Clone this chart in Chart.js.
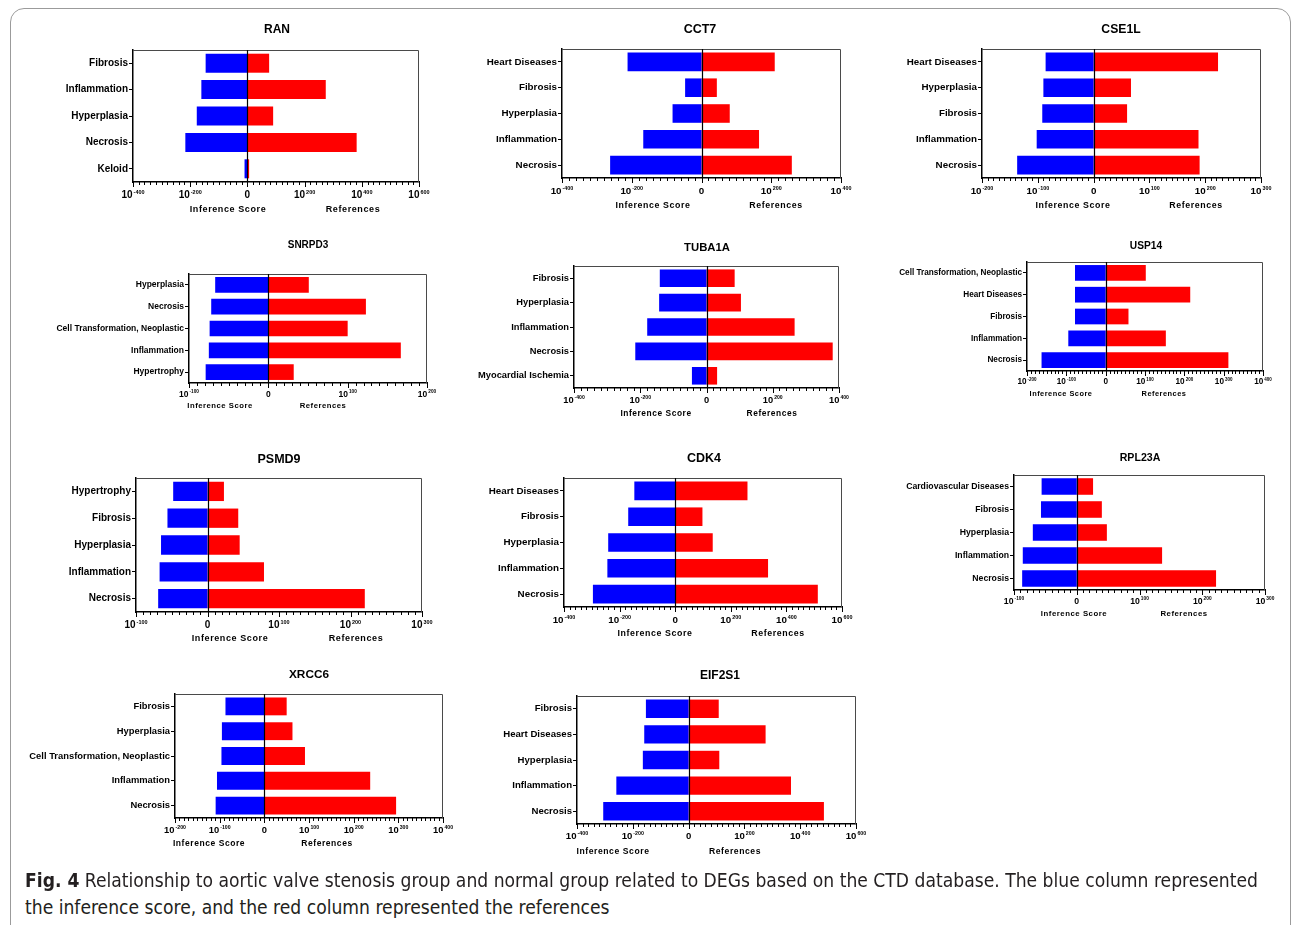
<!DOCTYPE html>
<html>
<head>
<meta charset="utf-8">
<script src="https://cdn.jsdelivr.net/npm/chart.js@4.4.0/dist/chart.umd.min.js"></script>
<style>
  body { margin: 0; background: #fff; width: 1292px; height: 925px; position: relative; overflow: hidden; }
  #frame { position: absolute; left: 10px; top: 8px; width: 1279px; height: 960px; border: 1px solid #9b9b9b; border-radius: 14px; }
  canvas { position: absolute; }
  .cap { position: absolute; left: 25px; white-space: nowrap; font-family: "Liberation Sans Narrow", "DejaVu Sans Condensed", "Liberation Sans", sans-serif; font-stretch: condensed; font-size: 20px; line-height: 26px; color: #231f20; transform-origin: 0 0; }
  .cap b { font-weight: bold; }
</style>
</head>
<body>
<div id="frame"></div>
<div id="charts"></div>
<div class="cap" id="cap1" style="top:867px"><b>Fig. 4</b> Relationship to aortic valve stenosis group and normal group related to DEGs based on the CTD database. The blue column represented</div>
<div class="cap" id="cap2" style="top:894px">the inference score, and the red column represented the references</div>

<script>
var fontFamily = '"Liberation Sans", Arial, Helvetica, sans-serif';

var ranDiseases = ['Fibrosis', 'Inflammation', 'Hyperplasia', 'Necrosis', 'Keloid'];
var ranInference = [-146, -161, -177, -217, -10];
var ranReferences = [76, 274, 90, 382, 6];
var ranTicks = [-400, -200, 0, 200, 400, 600];

var cct7Diseases = ['Heart Diseases', 'Fibrosis', 'Hyperplasia', 'Inflammation', 'Necrosis'];
var cct7Inference = [-212, -47, -83, -167, -262];
var cct7References = [210, 44, 81, 165, 259];
var cct7Ticks = [-400, -200, 0, 200, 400];

var cse1lDiseases = ['Heart Diseases', 'Hyperplasia', 'Fibrosis', 'Inflammation', 'Necrosis'];
var cse1lInference = [-86, -90, -92, -102, -137];
var cse1lReferences = [223, 67, 60, 188, 190];
var cse1lTicks = [-200, -100, 0, 100, 200, 300];

var snrpd3Diseases = ['Hyperplasia', 'Necrosis', 'Cell Transformation, Neoplastic', 'Inflammation', 'Hypertrophy'];
var snrpd3Inference = [-67, -72, -74, -75, -79];
var snrpd3References = [51, 123, 100, 167, 32];
var snrpd3Ticks = [-100, 0, 100, 200];

var tuba1aDiseases = ['Fibrosis', 'Hyperplasia', 'Inflammation', 'Necrosis', 'Myocardial Ischemia'];
var tuba1aInference = [-141, -143, -179, -215, -44];
var tuba1aReferences = [85, 104, 266, 381, 32];
var tuba1aTicks = [-400, -200, 0, 200, 400];

var usp14Diseases = ['Cell Transformation, Neoplastic', 'Heart Diseases', 'Fibrosis', 'Inflammation', 'Necrosis'];
var usp14Inference = [-78, -78, -78, -95, -163];
var usp14References = [102, 215, 58, 153, 312];
var usp14Ticks = [-200, -100, 0, 100, 200, 300, 400];

var psmd9Diseases = ['Hypertrophy', 'Fibrosis', 'Hyperplasia', 'Inflammation', 'Necrosis'];
var psmd9Inference = [-48, -56, -65, -67, -69];
var psmd9References = [23, 43, 45, 79, 220];
var psmd9Ticks = [-100, 0, 100, 200, 300];

var cdk4Diseases = ['Heart Diseases', 'Fibrosis', 'Hyperplasia', 'Inflammation', 'Necrosis'];
var cdk4Inference = [-147, -169, -241, -244, -296];
var cdk4References = [260, 98, 135, 334, 513];
var cdk4Ticks = [-400, -200, 0, 200, 400, 600];

var rpl23aDiseases = ['Cardiovascular Diseases', 'Fibrosis', 'Hyperplasia', 'Inflammation', 'Necrosis'];
var rpl23aInference = [-56, -57, -70, -86, -87];
var rpl23aReferences = [26, 40, 48, 136, 222];
var rpl23aTicks = [-100, 0, 100, 200, 300];

var xrcc6Diseases = ['Fibrosis', 'Hyperplasia', 'Cell Transformation, Neoplastic', 'Inflammation', 'Necrosis'];
var xrcc6Inference = [-87, -95, -96, -106, -109];
var xrcc6References = [50, 63, 91, 237, 295];
var xrcc6Ticks = [-200, -100, 0, 100, 200, 300, 400];

var eif2s1Diseases = ['Fibrosis', 'Heart Diseases', 'Hyperplasia', 'Inflammation', 'Necrosis'];
var eif2s1Inference = [-153, -159, -164, -259, -306];
var eif2s1References = [108, 276, 110, 367, 485];
var eif2s1Ticks = [-400, -200, 0, 200, 400, 600];

// page layout of each panel: plot box [l,t,r,b], font sizes, title / axis title centres
var panels = [
  { gene: 'RAN', cats: ranDiseases, inf: ranInference, ref: ranReferences, ticks: ranTicks,
    box: [133, 50, 419, 182], fs: 10, tfs: 12, title: [277, 30], axisY: 210, infX: 228, refX: 353 },
  { gene: 'CCT7', cats: cct7Diseases, inf: cct7Inference, ref: cct7References, ticks: cct7Ticks,
    box: [562, 49, 841, 178], fs: 9.8, tfs: 12.5, title: [700, 30], axisY: 206, infX: 653, refX: 776 },
  { gene: 'CSE1L', cats: cse1lDiseases, inf: cse1lInference, ref: cse1lReferences, ticks: cse1lTicks,
    box: [982, 49, 1261, 178], fs: 9.8, tfs: 12.2, title: [1121, 30], axisY: 206, infX: 1073, refX: 1196 },
  { gene: 'SNRPD3', cats: snrpd3Diseases, inf: snrpd3Inference, ref: snrpd3References, ticks: snrpd3Ticks,
    box: [189, 274, 427, 383], fs: 8.5, tfs: 10, title: [308, 245], axisY: 406, infX: 220, refX: 323 },
  { gene: 'TUBA1A', cats: tuba1aDiseases, inf: tuba1aInference, ref: tuba1aReferences, ticks: tuba1aTicks,
    box: [574, 266, 839, 388], fs: 9.3, tfs: 11.3, title: [707, 248], axisY: 414, infX: 656, refX: 772 },
  { gene: 'USP14', cats: usp14Diseases, inf: usp14Inference, ref: usp14References, ticks: usp14Ticks,
    box: [1027, 262, 1263, 371], fs: 8.2, tfs: 10.2, title: [1146, 246], axisY: 394, infX: 1061, refX: 1164 },
  { gene: 'PSMD9', cats: psmd9Diseases, inf: psmd9Inference, ref: psmd9References, ticks: psmd9Ticks,
    box: [136, 478, 422, 612], fs: 10, tfs: 12.5, title: [279, 460], axisY: 639, infX: 230, refX: 356 },
  { gene: 'CDK4', cats: cdk4Diseases, inf: cdk4Inference, ref: cdk4References, ticks: cdk4Ticks,
    box: [564, 478, 842, 607], fs: 9.8, tfs: 12.5, title: [704, 459], axisY: 634, infX: 655, refX: 778 },
  { gene: 'RPL23A', cats: rpl23aDiseases, inf: rpl23aInference, ref: rpl23aReferences, ticks: rpl23aTicks,
    box: [1014, 475, 1265, 590], fs: 8.7, tfs: 10.6, title: [1140, 458], axisY: 614, infX: 1074, refX: 1184 },
  { gene: 'XRCC6', cats: xrcc6Diseases, inf: xrcc6Inference, ref: xrcc6References, ticks: xrcc6Ticks,
    box: [175, 694, 443, 818], fs: 9.4, tfs: 11.8, title: [309, 675], axisY: 844, infX: 209, refX: 327 },
  { gene: 'EIF2S1', cats: eif2s1Diseases, inf: eif2s1Inference, ref: eif2s1References, ticks: eif2s1Ticks,
    box: [577, 696, 856, 824], fs: 9.6, tfs: 12, title: [720, 676], axisY: 852, infX: 613, refX: 735 }
];

var LEFT = 200, TOP = 40, RIGHT = 30, BOTTOM = 50;

// frame, zero line, 10^n tick labels, titles
var decor = {
  id: 'decor',
  afterDatasetsDraw: function (chart) {
    var p = chart.options.plugins.decor;
    var ctx = chart.ctx, a = chart.chartArea, x = chart.scales.x;
    ctx.save();
    ctx.strokeStyle = '#4a4a4a';
    ctx.lineWidth = 1;
    ctx.beginPath();
    ctx.moveTo(a.left, a.top + 0.5);
    ctx.lineTo(a.right - 0.5, a.top + 0.5);
    ctx.lineTo(a.right - 0.5, a.bottom);
    ctx.stroke();

    var z = Math.round(x.getPixelForValue(0)) + 0.5;
    ctx.strokeStyle = '#000';
    ctx.lineWidth = 1.2;
    ctx.beginPath();
    ctx.moveTo(z, a.top);
    ctx.lineTo(z, a.bottom);
    ctx.stroke();

    // major and minor ticks
    var t = p.ticks, step = t[1] - t[0], n = (t.length - 1) * 10;
    ctx.lineWidth = 1;
    ctx.beginPath();
    for (var i = 0; i <= n; i++) {
      var px = Math.round(x.getPixelForValue(t[0] + i * step / 10)) + 0.5;
      ctx.moveTo(px, a.bottom);
      ctx.lineTo(px, a.bottom + (i % 10 === 0 ? 5 : 3));
    }
    ctx.stroke();

    var fs = p.fs;
    var big = 'bold ' + fs + 'px ' + fontFamily;
    var small = 'bold ' + (fs * 0.55).toFixed(1) + 'px ' + fontFamily;
    var yb = a.bottom + fs * 1.6;
    ctx.fillStyle = '#000';
    ctx.textBaseline = 'alphabetic';
    ctx.textAlign = 'left';
    t.forEach(function (v) {
      var px = x.getPixelForValue(v);
      if (v === 0) {
        ctx.font = big;
        var w0 = ctx.measureText('0').width;
        ctx.fillText('0', px - w0 / 2, yb);
        return;
      }
      ctx.font = big;
      var w1 = ctx.measureText('10').width;
      ctx.font = small;
      var w2 = ctx.measureText(String(v)).width;
      var sx = px - (w1 + w2 + 1) / 2;
      ctx.font = big;
      ctx.fillText('10', sx, yb);
      ctx.font = small;
      ctx.fillText(String(v), sx + w1 + 1, yb - fs * 0.42);
    });

    // axis titles
    ctx.textAlign = 'center';
    ctx.textBaseline = 'middle';
    ctx.font = 'bold ' + (fs * 0.9).toFixed(1) + 'px ' + fontFamily;
    if ('letterSpacing' in ctx) ctx.letterSpacing = (fs * 0.06).toFixed(2) + 'px';
    ctx.fillText('Inference Score', p.infX - p.ox, p.axisY - p.oy);
    ctx.fillText('References', p.refX - p.ox, p.axisY - p.oy);
    if ('letterSpacing' in ctx) ctx.letterSpacing = '0px';

    // gene title
    ctx.font = 'bold ' + p.tfs + 'px ' + fontFamily;
    ctx.fillText(p.gene, p.title[0] - p.ox, p.title[1] - p.oy);
    ctx.restore();
  }
};

var holder = document.getElementById('charts');
var charts = [];

panels.forEach(function (p) {
  var l = p.box[0], tp = p.box[1], r = p.box[2], b = p.box[3];
  var cv = document.createElement('canvas');
  var ox = l - LEFT, oy = tp - TOP;
  cv.width = (r - l) + LEFT + RIGHT;
  cv.height = (b - tp) + TOP + BOTTOM;
  cv.style.left = ox + 'px';
  cv.style.top = oy + 'px';
  holder.appendChild(cv);

  charts.push(new Chart(cv.getContext('2d'), {
    type: 'bar',
    data: {
      labels: p.cats,
      datasets: [
        { label: 'Inference Score', data: p.inf, backgroundColor: '#0000ff', borderWidth: 0, barPercentage: 0.72, categoryPercentage: 1 },
        { label: 'References', data: p.ref, backgroundColor: '#ff0000', borderWidth: 0, barPercentage: 0.72, categoryPercentage: 1 }
      ]
    },
    options: {
      responsive: false,
      animation: false,
      indexAxis: 'y',
      layout: { padding: { left: 0, top: TOP, right: RIGHT, bottom: 0 } },
      plugins: {
        legend: { display: false },
        title: { display: false },
        tooltip: { enabled: false },
        decor: { gene: p.gene, ticks: p.ticks, fs: p.fs, tfs: p.tfs, title: p.title,
                 axisY: p.axisY, infX: p.infX, refX: p.refX, ox: ox, oy: oy }
      },
      scales: {
        x: {
          type: 'linear',
          stacked: true,
          min: p.ticks[0],
          max: p.ticks[p.ticks.length - 1],
          ticks: { display: false },
          grid: { display: false },
          border: { display: true, color: '#000', width: 1.5 },
          afterFit: function (s) { s.height = BOTTOM; }
        },
        y: {
          stacked: true,
          grid: { display: true, drawOnChartArea: false, drawTicks: true, tickLength: 4, color: '#000', offset: false },
          border: { display: true, color: '#000', width: 1.5 },
          ticks: { color: '#000', padding: 1, font: { family: fontFamily, size: p.fs, weight: 'bold' } },
          afterFit: function (s) { s.width = LEFT; }
        }
      }
    },
    plugins: [decor]
  }));
});

// squeeze the caption to the width it has in the figure
function fitCaption() {
  var c1 = document.getElementById('cap1'), c2 = document.getElementById('cap2');
  var k = 1233 / c1.getBoundingClientRect().width;
  c1.style.transform = 'scaleX(' + k + ')';
  c2.style.transform = 'scaleX(' + k + ')';
}
fitCaption();
</script>
</body>
</html>
